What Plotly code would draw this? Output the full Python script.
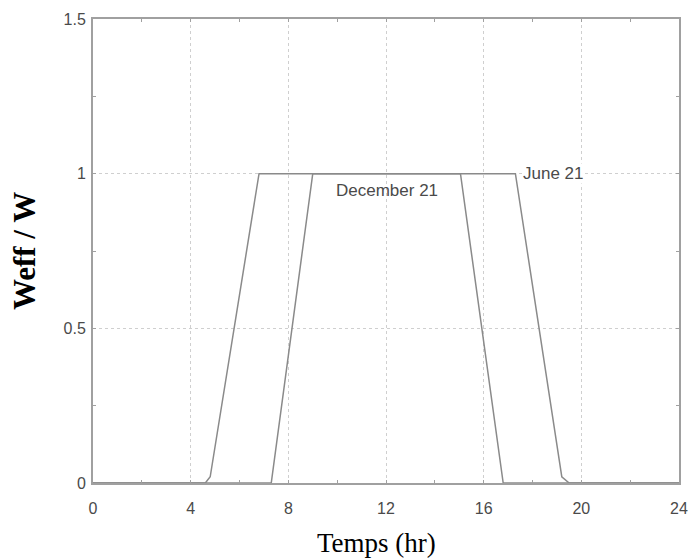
import plotly.graph_objects as go

# Data
june_x = [0, 4.6, 4.8, 6.8, 17.3, 19.2, 19.5, 24]
june_y = [0, 0, 0.02, 1, 1, 0.02, 0, 0]
dec_x = [0, 7.3, 9.0, 15.05, 16.8, 24]
dec_y = [0, 0, 1, 1, 0, 0]

x_ticks = [0, 4, 8, 12, 16, 20, 24]
y_ticks = [0, 0.5, 1, 1.5]
y_tick_text = ["0", "0.5", "1", "1.5"]

line_color = "#8a8a8a"
frame_color = "#a0a0a0"

fig = go.Figure()
fig.add_trace(go.Scatter(x=june_x, y=june_y, mode="lines",
                         line=dict(color=line_color, width=1.5), showlegend=False))
fig.add_trace(go.Scatter(x=dec_x, y=dec_y, mode="lines",
                         line=dict(color=line_color, width=1.5), showlegend=False))

fig.add_annotation(x=12.05, y=0.945, text="December 21", showarrow=False,
                   font=dict(family="Liberation Sans, Arial", size=17, color="#4a4a4a"))
fig.add_annotation(x=18.85, y=1.0, text="June 21", showarrow=False,
                   bgcolor="white", borderpad=0,
                   font=dict(family="Liberation Sans, Arial", size=17, color="#4a4a4a"))

# x-axis title (slightly left of centre in the reference)
fig.add_annotation(xref="paper", yref="paper", x=0.483, y=-0.129,
                   xanchor="center", yanchor="middle", showarrow=False,
                   text="Temps (hr)",
                   font=dict(family="Liberation Serif, Times New Roman", size=27, color="black"))

axis_common = dict(
    showline=True, linecolor=frame_color, linewidth=2, mirror="ticks",
    ticks="inside", ticklen=3, tickcolor=frame_color, tickwidth=1,
    showgrid=True, gridcolor="#cfcfcf", gridwidth=1, griddash="dot",
    zeroline=False, automargin=False,
    tickfont=dict(family="Liberation Sans, Arial", size=16, color="#4a4a4a"),
)

fig.update_xaxes(range=[0, 24], tickvals=x_ticks, ticktext=[str(v) for v in x_ticks],
                 minor=dict(dtick=2, tick0=0, ticks="inside", ticklen=3,
                            tickcolor=frame_color, showgrid=False),
                 ticklabelstandoff=10,
                 **axis_common)
fig.update_yaxes(range=[0, 1.5], tickvals=y_ticks, ticktext=y_tick_text,
                 minor=dict(dtick=0.25, tick0=0, ticks="inside", ticklen=3,
                            tickcolor=frame_color, showgrid=False),
                 ticklabelstandoff=2,
                 title=dict(text="<b>Weff / W</b>", standoff=19,
                            font=dict(family="Liberation Serif, Times New Roman", size=31, color="black")),
                 **axis_common)

fig.update_layout(width=692, height=558, margin=dict(l=93, r=13, t=19, b=75),
                  plot_bgcolor="white", paper_bgcolor="white")

fig.write_html("out.html", config={"displayModeBar": False},
               post_script="document.body.style.margin='0';document.body.style.overflow='hidden';")
